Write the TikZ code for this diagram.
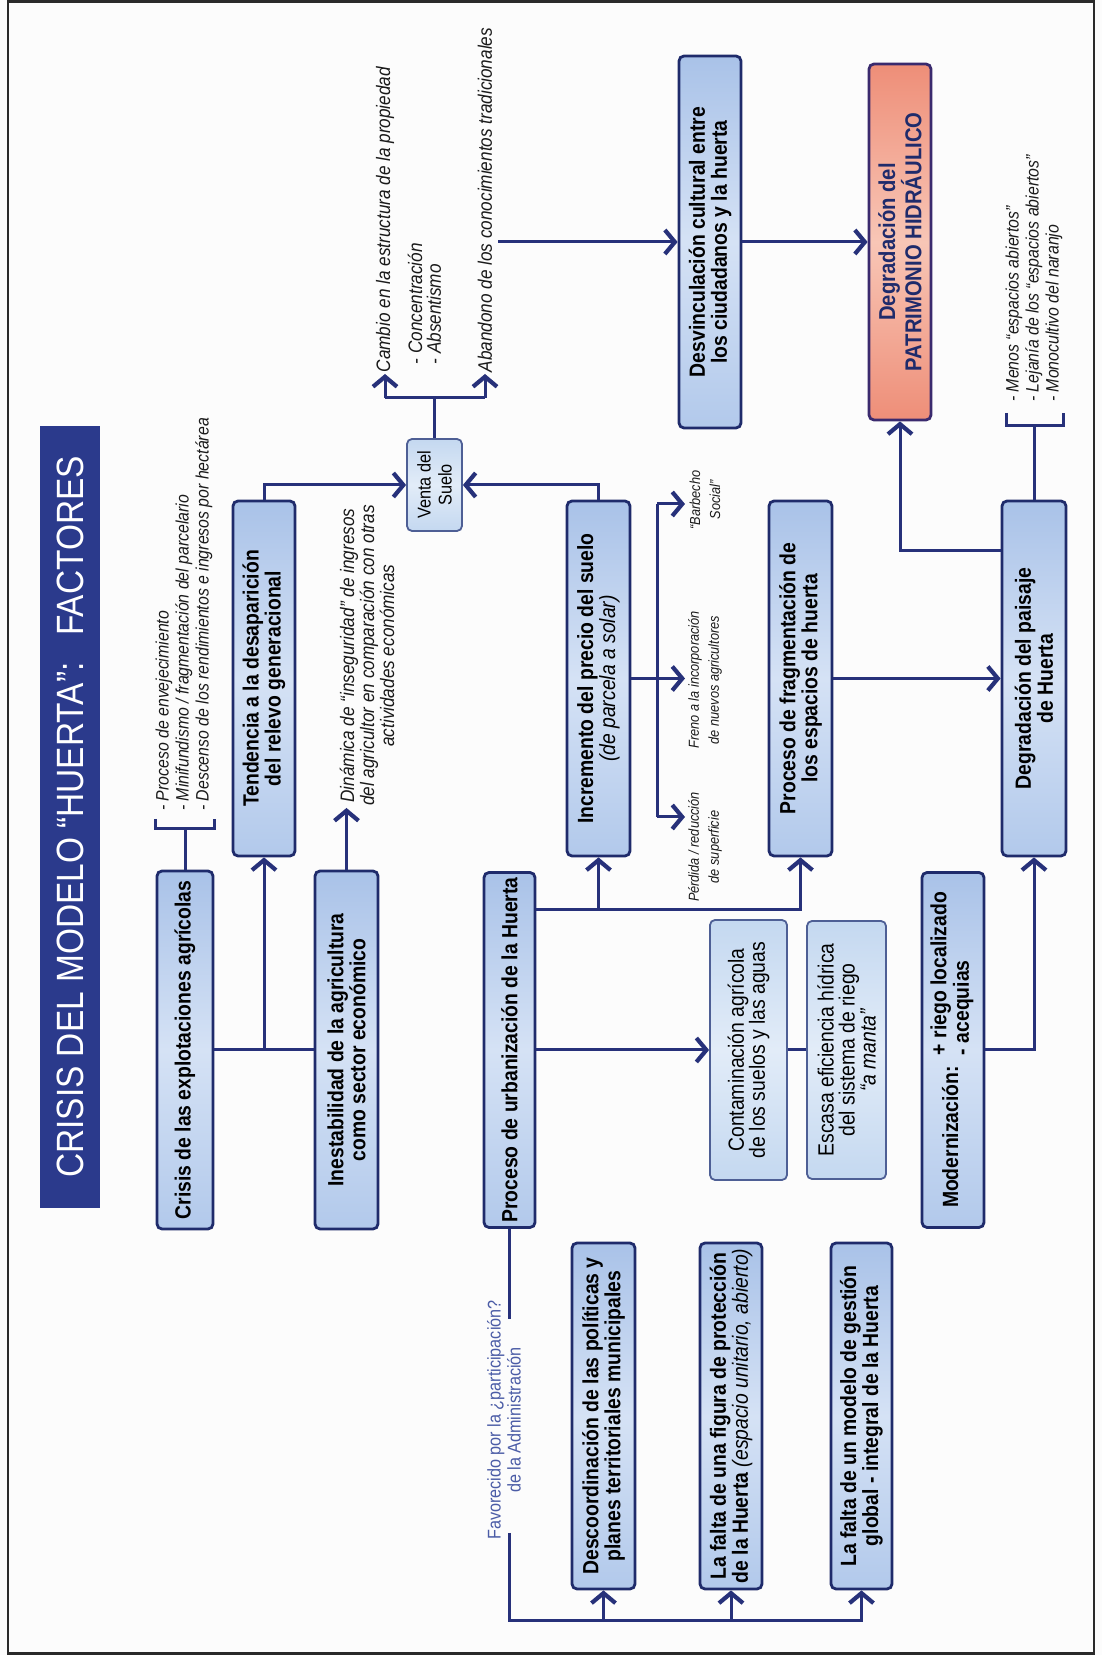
\documentclass[tikz,border=0pt]{standalone}
\usepackage{fontspec}
\setmainfont{Liberation Sans}[FakeStretch=0.88]
\usetikzlibrary{arrows.meta}
\definecolor{navy}{HTML}{27317A}
\definecolor{bordc}{HTML}{1F2B6B}
\definecolor{bxTop}{HTML}{A9C2E8}
\definecolor{bxMid}{HTML}{D5E2F5}
\definecolor{bxBot}{HTML}{B2C9EB}
\definecolor{lbxTop}{HTML}{C4D8F0}
\definecolor{lbxMid}{HTML}{E2ECF8}
\definecolor{lbxBot}{HTML}{C4D8F0}
\definecolor{lbord}{HTML}{4E5F95}
\definecolor{salA}{HTML}{EE8E78}
\definecolor{salB}{HTML}{F8C6B6}
\definecolor{patbord}{HTML}{3A2A6E}
\definecolor{ttlc}{HTML}{2B3A8C}
\definecolor{favc}{HTML}{4B5CA6}
\definecolor{txtc}{HTML}{1A1A1A}
\definecolor{framec}{HTML}{2A2A2A}
\definecolor{bgc}{HTML}{FCFCFC}
\newcommand\dgBox{\fontsize{22}{22}\selectfont\bfseries}
\newcommand\dgNorm{\fontsize{22}{21}\selectfont}
\newcommand\dgAnn{\fontsize{19.5}{20}\selectfont\itshape}
\newcommand\dgBul{\fontsize{18}{20}\selectfont\itshape}
\newcommand\dgSmall{\fontsize{14.5}{20}\selectfont\itshape}
\newcommand\dgVenta{\fontsize{18.5}{21}\selectfont}
\newcommand\dgFav{\fontsize{18.4}{20}\selectfont}
\newcommand\dgTitle{\fontsize{38}{40}\selectfont}
\newcommand\dgPatr{\fontsize{23}{21}\selectfont\bfseries}
\tikzset{
 ln/.style={draw=navy, line width=3pt},
 arr/.style={ln, -{Straight Barb[length=10pt,width=24pt,line width=4.2pt]}},
 bx/.style={draw=bordc, line width=2.8pt, rounded corners=5pt, top color=bxTop, bottom color=bxBot, middle color=bxMid, align=center, inner sep=0pt, font=\dgBox, text=black},
 lbx/.style={draw=lbord, line width=1.8pt, rounded corners=5pt, top color=lbxTop, bottom color=lbxBot, middle color=lbxMid, align=center, inner sep=0pt, font=\dgNorm, text=black},
 pbx/.style={draw=patbord, line width=2.8pt, rounded corners=5pt, top color=salA, bottom color=salA, middle color=salB, align=center, inner sep=0pt, font=\dgPatr, text=bordc},
 ttl/.style={fill=ttlc, inner sep=0pt, font=\dgTitle, text=white},
 ann/.style={inner sep=1.5pt, font=\dgAnn, text=txtc},
 bul/.style={inner sep=0pt, align=left, font=\dgBul, text=txtc},
 sml/.style={inner sep=0pt, align=center, font=\dgSmall, text=txtc},
 favs/.style={inner sep=0pt, align=center, font=\dgFav, text=favc},
}
\begin{document}
\begin{tikzpicture}[x=1pt,y=1pt]
\useasboundingbox (0,0) rectangle (1102,1655);
\fill[bgc] (0,0) rectangle (1102,1655);
\begin{scope}[shift={(1102,0)}, rotate=90, transform shape]
% frame
\draw[line width=2.6pt, draw=framec] (1.5,8) rectangle (1653.5,1094);
% title
\node[ttl, minimum width=782pt, minimum height=60pt] (title) at (838,1032) {CRISIS DEL MODELO “HUERTA”:\hspace{0.7em}FACTORES};
% main boxes
\node[bx, minimum width=358pt, minimum height=56pt] (crisis) at (605,917) {Crisis de las explotaciones agrícolas};
\node[bx, minimum width=358pt, minimum height=63pt] (inest) at (605,755.5) {Inestabilidad de la agricultura\\como sector económico};
\node[bx, minimum width=355pt, minimum height=62pt] (tend) at (976.5,838) {Tendencia a la desaparición\\del relevo generacional};
\node[bx, minimum width=355pt, minimum height=63pt] (incr) at (976.5,503.5) {Incremento del precio del suelo\\{\mdseries\itshape (de parcela a solar)}};
\node[bx, minimum width=355pt, minimum height=63pt] (frag) at (976.5,301.5) {Proceso de fragmentación de\\los espacios de huerta};
\node[bx, minimum width=355pt, minimum height=64pt] (paisaje) at (976.5,68) {Degradación del paisaje\\de Huerta};
\node[bx, minimum width=355pt, minimum height=51pt] (urb) at (605,592.5) {Proceso de urbanización de la Huerta};
\node[lbx, minimum width=260pt, minimum height=77pt] (cont) at (605,353.5) {Contaminación agrícola\\de los suelos y las aguas};
\node[lbx, minimum width=258pt, minimum height=79pt] (esc) at (605,255.5) {Escasa eficiencia hídrica\\del sistema de riego\\\textit{“a manta”}};
\node[bx, minimum width=355pt, minimum height=62pt] (modern) at (605,149) {Modernización:\enspace\begin{tabular}[c]{@{}l@{}}+ riego localizado\\- acequias\end{tabular}};
\node[lbx, minimum width=92pt, minimum height=55pt, font=\dgVenta] (venta) at (1170,667.5) {Venta del\\Suelo};
\node[bx, minimum width=372pt, minimum height=62pt] (desv) at (1413,392) {Desvinculación cultural entre\\los ciudadanos y la huerta};
\node[pbx, minimum width=356pt, minimum height=62pt] (patr) at (1413,202) {Degradación del\\PATRIMONIO HIDRÁULICO};
\node[bx, minimum width=346pt, minimum height=63pt] (desc) at (239,498.5) {Descoordinación de las políticas y\\planes territoriales municipales};
\node[bx, minimum width=346pt, minimum height=62pt] (figura) at (239,371) {La falta de una figura de protección\\de la Huerta {\mdseries\itshape (espacio unitario, abierto)}};
\node[bx, minimum width=346pt, minimum height=61pt] (modelo) at (239,240.5) {La falta de un modelo de gestión\\global - integral de la Huerta};
% annotations
\node[bul, anchor=west] (bl1) at (844,918) {- Proceso de envejecimiento\\- Minifundismo / fragmentación del parcelario\\- Descenso de los rendimientos e ingresos por hectárea};
\node[ann, align=center, anchor=west, inner sep=0pt] (dina) at (849,735) {Dinámica de “inseguridad” de ingresos\\del agricultor en comparación con otras\\actividades económicas};
\node[ann, anchor=west] (cambio) at (1281,717) {Cambio en la estructura de la propiedad};
\node[ann, anchor=west] (conc) at (1289,687) {- Concentración};
\node[ann, anchor=west] (absen) at (1289,668) {- Absentismo};
\node[ann, anchor=west] (aband) at (1281,617) {Abandono de los conocimientos tradicionales};
\node[bul, anchor=west] (bl2) at (1253,68) {- Menos “espacios abiertos”\\- Lejanía de los “espacios abiertos”\\- Monocultivo del naranjo};
\node[sml] (perd) at (808,397) {Pérdida / reducción\\de superficie};
\node[sml] (freno) at (975,397) {Freno a la incorporación\\de nuevos agricultores};
\node[sml] (barb) at (1155,397) {“Barbecho\\Social”};
\node[favs] (fav) at (235,598) {Favorecido por la ¿participación?\\de la Administración};
% coordinates
\coordinate (b1) at (826,917);
\coordinate (j1) at (605,838);
\coordinate (d1) at (847,755.5);
\coordinate (k1) at (1170,838);
\coordinate (k2) at (1170,503.5);
\coordinate (vs) at (1257,667.5);
\coordinate (vs1) at (1257,717);
\coordinate (vs2) at (1257,617);
\coordinate (a1) at (1413,604);
\coordinate (q0) at (1104,101);
\coordinate (q1) at (1104,202);
\coordinate (b2) at (1229,68);
\coordinate (ib) at (976.5,445);
\coordinate (ia) at (838,445);
\coordinate (ic) at (1151,445);
\coordinate (ta) at (838,417);
\coordinate (tb) at (976.5,417);
\coordinate (tc) at (1151,417);
\coordinate (u1) at (745,566);
\coordinate (u2) at (745,301.5);
\coordinate (u3) at (745,503.5);
\coordinate (k3) at (605,68);
\coordinate (gR) at (336,592.5);
\coordinate (gL) at (122,592.5);
\coordinate (c1) at (34,592.5);
\coordinate (c2) at (34,240.5);
\coordinate (c3) at (34,498.5);
\coordinate (c4) at (34,371);
% connectors
\draw[ln] (crisis.east) -- (b1);
\draw[ln] (836,947) -- (826,947) -- (826,888) -- (836,888);
\draw[ln] (crisis.south) -- (inest.north);
\draw[arr] (j1) -- (tend.west);
\draw[arr] (inest.east) -- (d1);
\draw[arr] (tend.east) -- (k1) -- (venta.north);
\draw[arr] (incr.east) -- (k2) -- (venta.south);
\draw[ln] (venta.east) -- (vs);
\draw[ln] (vs1) -- (vs2);
\draw[arr] (vs1) -- (cambio.west);
\draw[arr] (vs2) -- (aband.west);
\draw[arr] (a1) -- (desv.north);
\draw[arr] (desv.south) -- (patr.north);
\draw[arr] (q0) -- (q1) -- (patr.west);
\draw[ln] (paisaje.east) -- (b2);
\draw[ln] (1242,96) -- (1229,96) -- (1229,39) -- (1242,39);
\draw[arr] (frag.south) -- (paisaje.north);
\draw[ln] (incr.south) -- (ib);
\draw[ln] (ia) -- (ic);
\draw[arr] (ia) -- (ta);
\draw[arr] (ib) -- (tb);
\draw[arr] (ic) -- (tc);
\draw[arr] (u1) -- (u2) -- (frag.west);
\draw[arr] (u3) -- (incr.west);
\draw[arr] (urb.south) -- (cont.north);
\draw[ln] (cont.south) -- (esc.north);
\draw[arr] (modern.south) -- (k3) -- (paisaje.west);
\draw[ln] (urb.west) -- (gR);
\draw[arr] (gL) -- (c1) -- (c2) -- (modelo.west);
\draw[arr] (c3) -- (desc.west);
\draw[arr] (c4) -- (figura.west);
\end{scope}
\end{tikzpicture}
\end{document}
